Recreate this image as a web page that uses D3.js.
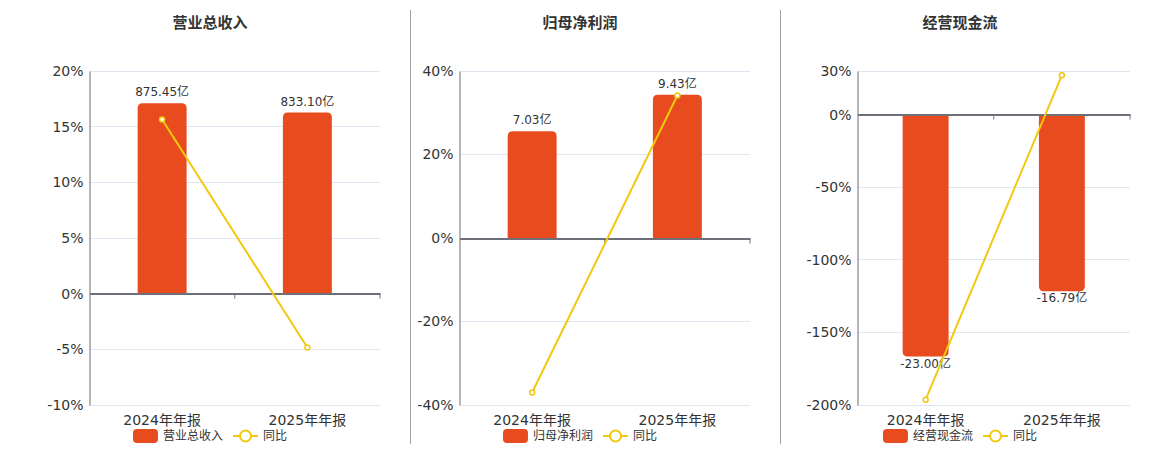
<!DOCTYPE html>
<html>
<head>
<meta charset="utf-8">
<script src="https://cdn.jsdelivr.net/npm/d3@7"></script>
<style>
    body { margin: 0; background: #fff; }
    svg { display: block; font-family: "DejaVu Sans", "Noto Sans CJK SC", sans-serif; }
</style>
</head>
<body>
<svg id="chart" width="1160" height="450"></svg>
<script>
    const categories = ["2024年年报", "2025年年报"];
    const titles = ["营业总收入", "归母净利润", "经营现金流"];

    const revenue = [875.45, 833.10];
    const revenueYoy = [15.65, -4.84];
    const revenueTicks = [-10, -5, 0, 5, 10, 15, 20];

    const profit = [7.03, 9.43];
    const profitYoy = [-37.0, 34.14];
    const profitTicks = [-40, -20, 0, 20, 40];

    const cashflow = [-23.00, -16.79];
    const cashflowYoy = [-196.3, 27.0];
    const cashflowTicks = [-200, -150, -100, -50, 0, 30];

    const barColor = "#e84b1d";
    const lineColor = "#f2c80f";

    // panel geometry (plot left / right, panel center)
    const panels = [
        {title: titles[0], bars: revenue, yoy: revenueYoy, ticks: revenueTicks, barDomain: [-512, 1024], x0: 89.5, x1: 380, cx: 210},
        {title: titles[1], bars: profit, yoy: profitYoy, ticks: profitTicks, barDomain: [-11, 11], x0: 459.5, x1: 750, cx: 580},
        {title: titles[2], bars: cashflow, yoy: cashflowYoy, ticks: cashflowTicks, barDomain: [-27.6, 4.14], x0: 857.5, x1: 1130, cx: 960}
    ];
    const plotTop = 71, plotBottom = 405;

    const svg = d3.select("#chart");

    // dividers
    [410.5, 780.5].forEach(x => {
        svg.append("line")
            .attr("x1", x).attr("x2", x)
            .attr("y1", 10).attr("y2", 444)
            .attr("stroke", "#a0a0a0").attr("stroke-width", 1);
    });

    panels.forEach(p => {
        const g = svg.append("g");
        const ticks = p.ticks;

        const y = d3.scaleLinear()
            .domain([d3.min(ticks), d3.max(ticks)])
            .range([plotBottom, plotTop]);
        const yBar = d3.scaleLinear()
            .domain(p.barDomain)
            .range([plotBottom, plotTop]);
        const x = d3.scaleBand()
            .domain(categories)
            .range([p.x0, p.x1]);
        const bw = x.bandwidth() * 0.337;

        g.append("text")
            .attr("x", p.cx).attr("y", 28)
            .attr("text-anchor", "middle")
            .attr("font-size", 15).attr("font-weight", "bold")
            .attr("fill", "#333")
            .text(p.title);

        // grid
        g.selectAll(".grid")
            .data(ticks.filter(t => t !== 0))
            .enter()
            .append("line")
            .attr("x1", p.x0).attr("x2", p.x1)
            .attr("y1", d => Math.floor(y(d)) + 0.5)
            .attr("y2", d => Math.floor(y(d)) + 0.5)
            .attr("stroke", "#e0e6f1").attr("stroke-width", 1);

        // y axis
        const yAxis = g.append("g")
            .attr("transform", `translate(${p.x0},0)`)
            .call(d3.axisLeft(y).tickValues(ticks).tickSize(0).tickPadding(6).tickFormat(d => d + "%"));
        yAxis.select(".domain").attr("stroke", "#6e7079");
        yAxis.selectAll("text")
            .attr("font-size", 14).attr("fill", "#333")
            .attr("font-family", "DejaVu Sans, sans-serif");

        // bars
        g.selectAll(".bar")
            .data(p.bars)
            .enter()
            .append("path")
            .attr("fill", barColor)
            .attr("d", (d, i) => {
                const cx = x(categories[i]) + x.bandwidth() / 2;
                const y0 = yBar(0), y1 = yBar(d);
                const r = 5, l = cx - bw / 2, rr = cx + bw / 2;
                if (d >= 0) {
                    return `M${l},${y0}V${y1 + r}Q${l},${y1} ${l + r},${y1}H${rr - r}Q${rr},${y1} ${rr},${y1 + r}V${y0}Z`;
                }
                return `M${l},${y0}V${y1 - r}Q${l},${y1} ${l + r},${y1}H${rr - r}Q${rr},${y1} ${rr},${y1 - r}V${y0}Z`;
            });

        // zero axis with ticks
        const zy = Math.floor(y(0)) + 0.5;
        const xAxis = g.append("g")
            .attr("transform", `translate(0,${zy})`)
            .call(d3.axisBottom(x).tickSize(0).tickFormat(""));
        xAxis.select(".domain").attr("stroke", "#6e7079").attr("stroke-width", 2);
        xAxis.selectAll(".tick").remove();
        g.selectAll(".xtick")
            .data([x(categories[1]), p.x1])
            .enter()
            .append("line")
            .attr("x1", d => d).attr("x2", d => d)
            .attr("y1", zy).attr("y2", zy + 5)
            .attr("stroke", "#6e7079").attr("stroke-width", 1);

        // category labels
        g.selectAll(".xlab")
            .data(categories)
            .enter()
            .append("text")
            .attr("x", d => x(d) + x.bandwidth() / 2)
            .attr("y", 425)
            .attr("text-anchor", "middle")
            .attr("font-size", 14).attr("fill", "#333")
            .text(d => d);

        // bar labels
        g.selectAll(".blab")
            .data(p.bars)
            .enter()
            .append("text")
            .attr("x", (d, i) => x(categories[i]) + x.bandwidth() / 2)
            .attr("y", d => d >= 0 ? yBar(d) - 7 : yBar(d) + 11)
            .attr("text-anchor", "middle")
            .attr("font-size", 12).attr("fill", "#333")
            .text(d => d.toFixed(2) + "亿");

        // yoy line
        const line = d3.line()
            .x((d, i) => x(categories[i]) + x.bandwidth() / 2)
            .y(d => y(d));
        g.append("path")
            .datum(p.yoy)
            .attr("d", line)
            .attr("fill", "none")
            .attr("stroke", lineColor).attr("stroke-width", 2);
        g.selectAll(".pt")
            .data(p.yoy)
            .enter()
            .append("circle")
            .attr("cx", (d, i) => x(categories[i]) + x.bandwidth() / 2)
            .attr("cy", d => y(d))
            .attr("r", 2.5)
            .attr("fill", "#fff")
            .attr("stroke", lineColor).attr("stroke-width", 1.5);

        // legend
        const lg = g.append("g");
        const ly = 436;
        lg.append("rect")
            .attr("x", 0).attr("y", ly - 7)
            .attr("width", 25).attr("height", 14)
            .attr("rx", 4)
            .attr("fill", barColor);
        const t1 = lg.append("text")
            .attr("x", 30).attr("y", ly + 4)
            .attr("font-size", 12).attr("fill", "#333")
            .attr("font-family", "Noto Sans CJK SC, sans-serif")
            .text(p.title);
        const w1 = t1.node().getComputedTextLength();
        const lx = 30 + w1 + 10;
        lg.append("line")
            .attr("x1", lx).attr("x2", lx + 25)
            .attr("y1", ly).attr("y2", ly)
            .attr("stroke", lineColor).attr("stroke-width", 2);
        lg.append("circle")
            .attr("cx", lx + 12.5).attr("cy", ly).attr("r", 5.5)
            .attr("fill", "#fff")
            .attr("stroke", lineColor).attr("stroke-width", 2);
        const t2 = lg.append("text")
            .attr("x", lx + 30).attr("y", ly + 4)
            .attr("font-size", 12).attr("fill", "#333")
            .attr("font-family", "Noto Sans CJK SC, sans-serif")
            .text("同比");
        const total = lx + 30 + t2.node().getComputedTextLength();
        lg.attr("transform", `translate(${p.cx - total / 2},0)`);
    });
</script>
</body>
</html>
